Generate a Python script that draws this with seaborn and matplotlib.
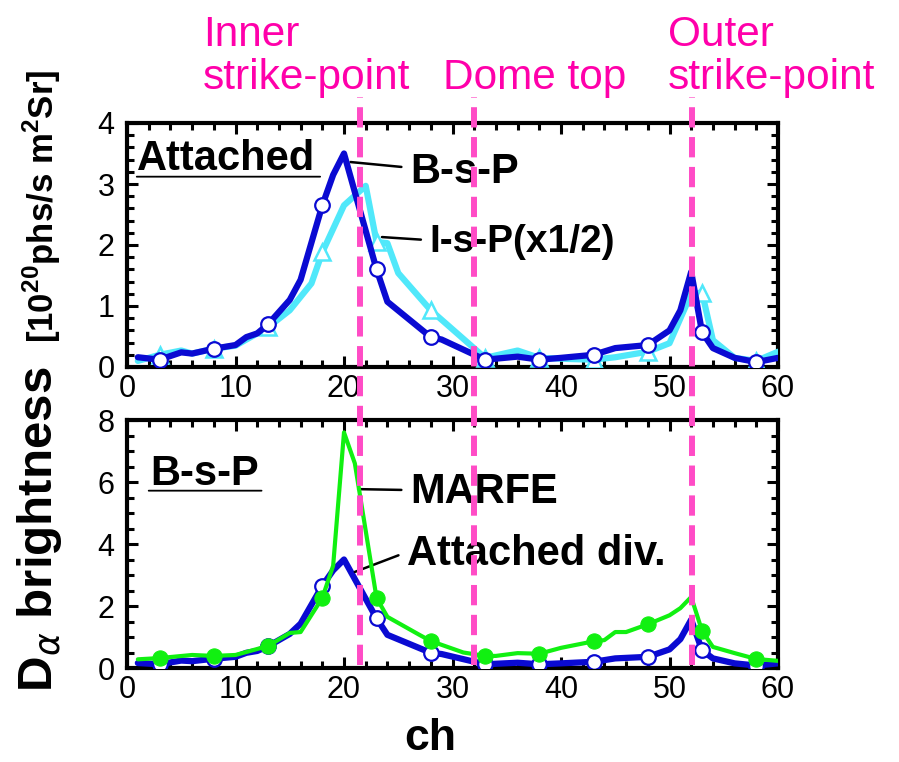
import numpy as np
import pandas as pd
import matplotlib
matplotlib.use("Agg")
import matplotlib.pyplot as plt
import seaborn as sns
from matplotlib.ticker import MultipleLocator

# ---------------- data ----------------
ch_bsp = [1, 3, 5, 6, 8, 10, 11, 12, 13, 15, 16, 18, 19, 20, 23, 24, 28, 29, 33,
          36, 38, 40, 43, 45, 48, 50, 51, 52, 53, 54, 56, 58, 60]
bsp = [0.16, 0.12, 0.24, 0.22, 0.30, 0.36, 0.49, 0.55, 0.70, 1.10, 1.43, 2.65, 3.15,
       3.50, 1.60, 1.07, 0.49, 0.45, 0.12, 0.17, 0.12, 0.15, 0.20, 0.31, 0.36, 0.60,
       0.93, 1.56, 0.57, 0.31, 0.15, 0.08, 0.15]

ch_isp = [1, 3, 5, 6, 8, 10, 12, 13, 15, 17, 18, 20, 22, 23, 24, 25, 28, 33, 36, 38,
          41, 43, 45, 48, 50, 52, 53, 54, 56, 58, 60]
isp_half = [0.10, 0.20, 0.27, 0.22, 0.30, 0.35, 0.55, 0.65, 0.93, 1.37, 1.88, 2.65,
            2.97, 2.05, 2.03, 1.54, 0.93, 0.15, 0.27, 0.15, 0.13, 0.12, 0.16, 0.25,
            0.39, 1.20, 1.22, 0.44, 0.15, 0.10, 0.25]

ch_marfe = [1, 3, 6, 8, 10, 13, 15, 16, 18, 19, 20, 21, 23, 24, 27, 28, 31, 33, 34,
            36, 38, 40, 43, 44, 45, 46, 48, 50, 51, 52, 53, 54, 56, 58, 60]
marfe = [0.28, 0.32, 0.42, 0.39, 0.42, 0.71, 1.13, 1.16, 2.26, 3.30, 7.60, 6.60,
         2.26, 1.65, 1.06, 0.87, 0.50, 0.39, 0.39, 0.48, 0.46, 0.65, 0.86, 0.90,
         1.16, 1.16, 1.41, 1.70, 1.93, 2.29, 1.20, 0.68, 0.48, 0.29, 0.23]

marker_ch = [3, 8, 13, 18, 23, 28, 33, 38, 43, 48, 53, 58]
strike_ch = [21.5, 32.0, 52.1]
xticks = [0, 10, 20, 30, 40, 50, 60]
yticks_top = [0, 1, 2, 3, 4]
yticks_bot = [0, 2, 4, 6, 8]

# ---------------- style ----------------
sns.set_style("ticks")
plt.rcParams["font.family"] = ["Liberation Sans", "DejaVu Sans"]
plt.rcParams["mathtext.fontset"] = "custom"
plt.rcParams["mathtext.rm"] = "Liberation Sans"
plt.rcParams["mathtext.bf"] = "Liberation Sans:bold"
for k in ["text.color", "axes.labelcolor", "xtick.color", "ytick.color", "axes.edgecolor"]:
    plt.rcParams[k] = "black"

BLUE = "#0a0ad2"
CYAN = "#50e8fa"
GREEN = "#11f011"
PINK = "#ff4cc6"
MAGENTA = "#ff00aa"

W, H = 899, 762
fig = plt.figure(figsize=(W / 100, H / 100), dpi=100)


def fx(px):
    return px / W


def fy(py):
    return 1 - py / H


ax1 = fig.add_axes([fx(127), fy(367), fx(778) - fx(127), fy(123) - fy(367)])
ax2 = fig.add_axes([fx(127), fy(668), fx(778) - fx(127), fy(420) - fy(668)])


def idx(chs):
    return [chs.index(c) for c in marker_ch]


df_bsp = pd.DataFrame({"ch": ch_bsp, "v": bsp})
df_isp = pd.DataFrame({"ch": ch_isp, "v": isp_half})
df_mar = pd.DataFrame({"ch": ch_marfe, "v": marfe})

# top panel
sns.lineplot(data=df_isp, x="ch", y="v", ax=ax1, color=CYAN, lw=4.5, marker="^",
             markevery=idx(ch_isp), ms=12, mfc="white", mec=CYAN, mew=1.8, zorder=3)
sns.lineplot(data=df_bsp, x="ch", y="v", ax=ax1, color=BLUE, lw=4.5, marker="o",
             markevery=idx(ch_bsp), ms=10.5, mfc="white", mec=BLUE, mew=1.6, zorder=4)

# bottom panel
sns.lineplot(data=df_bsp, x="ch", y="v", ax=ax2, color=BLUE, lw=4.5, marker="o",
             markevery=idx(ch_bsp), ms=10.5, mfc="white", mec=BLUE, mew=1.6, zorder=3)
sns.lineplot(data=df_mar, x="ch", y="v", ax=ax2, color=GREEN, lw=3.0, marker="o",
             markevery=idx(ch_marfe), ms=11, mfc=GREEN, mec=GREEN, zorder=4)

for ax, yt, ymax, yminor in [(ax1, yticks_top, 4, 0.2), (ax2, yticks_bot, 8, 0.5)]:
    ax.set_xlim(0, 60)
    ax.set_ylim(0, ymax)
    ax.set_xticks(xticks)
    ax.set_yticks(yt)
    ax.xaxis.set_minor_locator(MultipleLocator(2))
    ax.yaxis.set_minor_locator(MultipleLocator(yminor))
    ax.tick_params(which="both", direction="in", top=True, right=True, width=2.2,
                   labelsize=22, color="black", labelcolor="black")
    ax.tick_params(axis="x", which="major", length=8, pad=5)
    ax.tick_params(axis="y", which="major", length=8, pad=9)
    ax.tick_params(which="minor", length=5)
    for s in ax.spines.values():
        s.set_linewidth(3)
        s.set_color("black")
    ax.set_xlabel("")
    ax.set_ylabel("")

# text annotations, top
tk = dict(fontsize=30, fontweight="bold", va="baseline", ha="left", color="black")
lead = dict(arrowstyle="-", lw=1.8, color="black", shrinkA=4, shrinkB=0)
ax1.text(0.9, 3.23, "Attached", **tk)
ax1.annotate("", xy=(0.9, 3.12), xytext=(17.8, 3.12),
             arrowprops=dict(arrowstyle="-", lw=1.3, color="black", shrinkA=0, shrinkB=0))
ax1.annotate("B-s-P", xy=(20.6, 3.36), xytext=(26.1, 3.02), **tk,
             arrowprops=dict(lead, relpos=(0, 0.6)))
ax1.annotate("I-s-P(x1/2)", xy=(23.5, 2.13), xytext=(27.9, 1.885), **dict(tk, fontsize=28),
             arrowprops=dict(lead, relpos=(0, 0.55)))

# text annotations, bottom
ax2.text(2.1, 5.9, "B-s-P", **tk)
ax2.annotate("", xy=(2.0, 5.72), xytext=(12.4, 5.72),
             arrowprops=dict(arrowstyle="-", lw=1.3, color="black", shrinkA=0, shrinkB=0))
ax2.annotate("MARFE", xy=(21.3, 5.77), xytext=(26.1, 5.32), **tk,
             arrowprops=dict(lead, relpos=(0, 0.55)))
ax2.annotate("Attached div.", xy=(21.0, 3.1), xytext=(25.8, 3.32), **tk,
             arrowprops=dict(lead, relpos=(0, 0.55)))

# overlay for dashed strike lines
ov = fig.add_axes([fx(127), fy(665), fx(778) - fx(127), fy(97) - fy(665)], facecolor="none")
ov.set_xlim(0, 60)
ov.set_ylim(0, 1)
ov.axis("off")
for c in strike_ch:
    ov.axvline(c, color=PINK, lw=4.3, dashes=(3.4, 1.6), zorder=10)

# magenta labels
mk = dict(fontsize=30.5, color=MAGENTA, va="baseline", ha="left")
fig.text(fx(203), fy(46), "Inner", **mk)
fig.text(fx(203), fy(89), "strike-point", **mk)
fig.text(fx(443), fy(89), "Dome top", **mk)
fig.text(fx(668), fy(46), "Outer", **mk)
fig.text(fx(668), fy(89), "strike-point", **mk)

# axis labels
fig.text(fx(430), fy(738), "ch", fontsize=32, fontweight="bold", ha="center", va="center")
fig.text(fx(40), fy(692), r"D$_{\alpha}$ brightness", fontsize=35.5, fontweight="bold",
         rotation=90, ha="center", va="bottom")
fig.text(fx(42), fy(70), r"[10$^{\mathbf{20}}$phs/s m$^{\mathbf{2}}$Sr]", fontsize=25,
         fontweight="bold", rotation=90, ha="center", va="top")

fig.savefig("out.png", dpi=100)
